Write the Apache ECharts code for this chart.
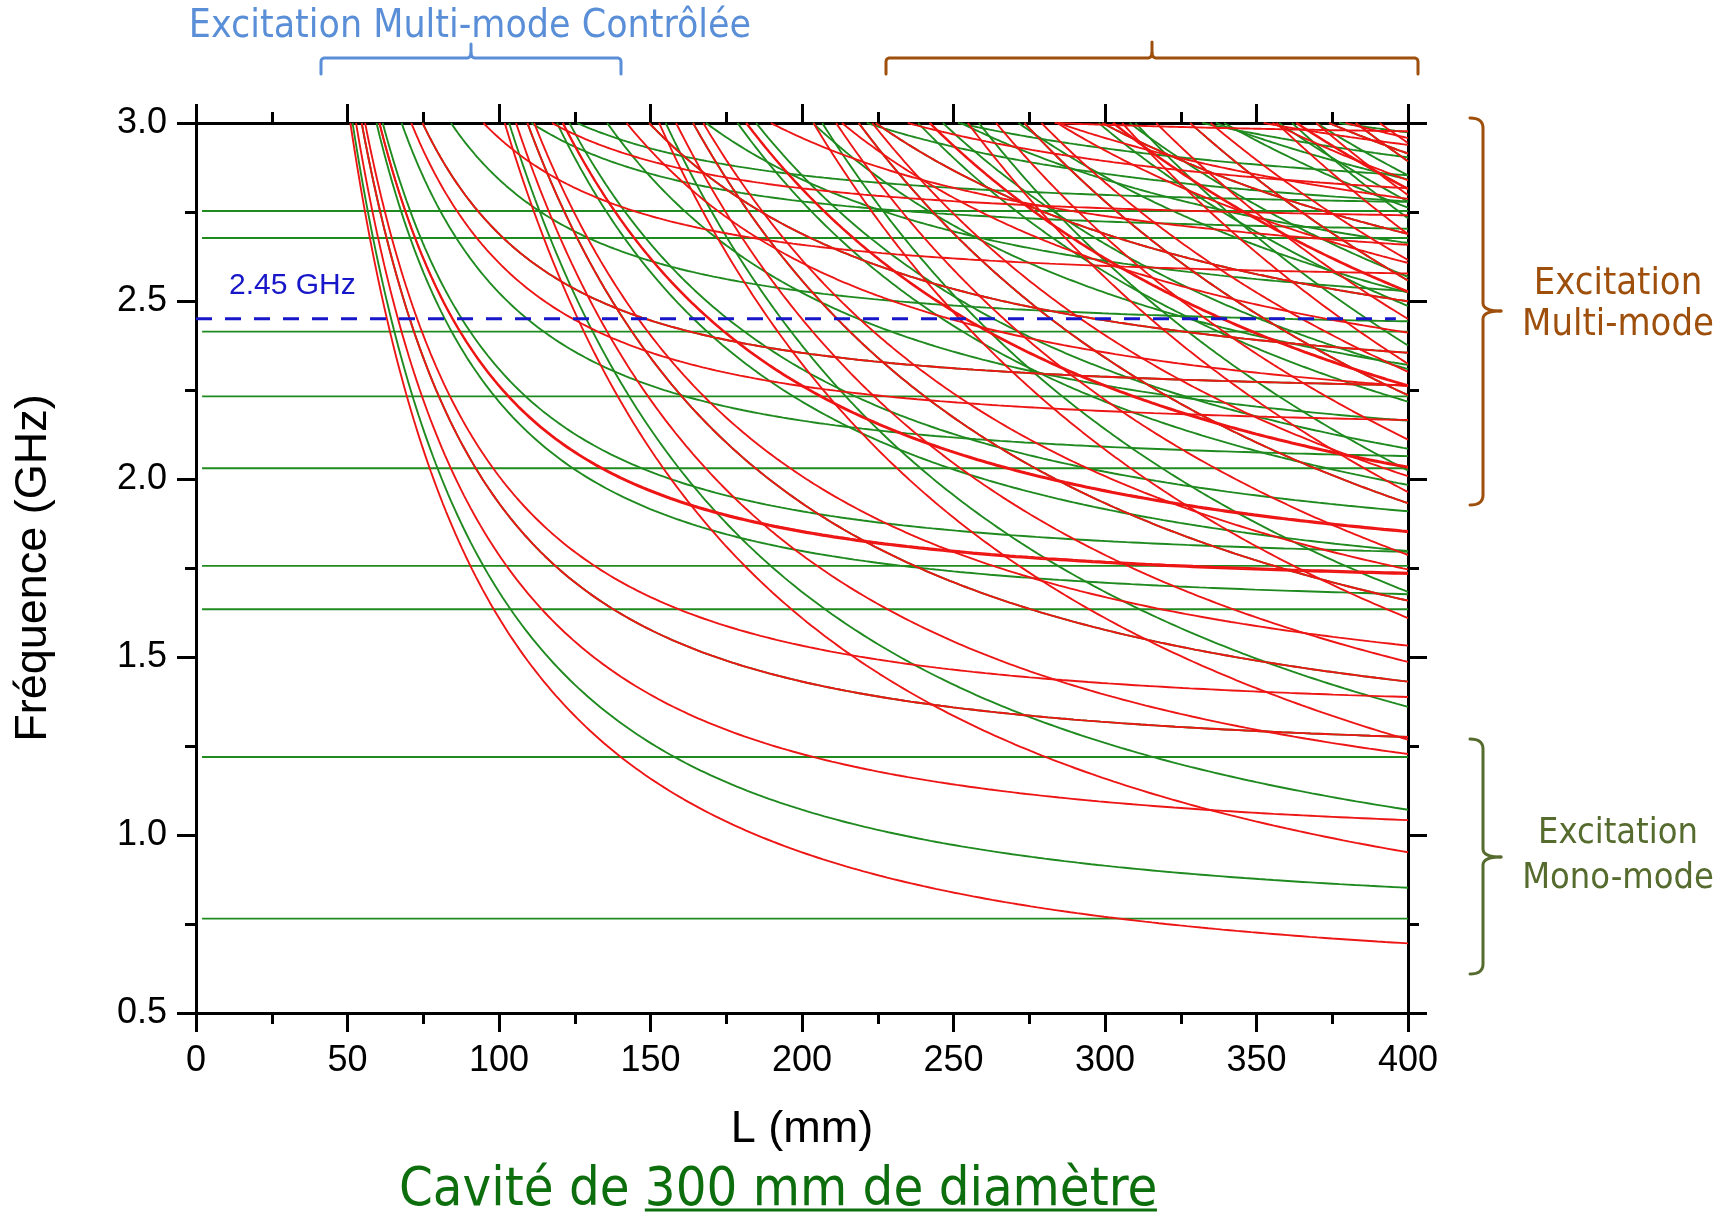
<!DOCTYPE html>
<html>
<head>
<meta charset="utf-8">
<script src="https://cdn.jsdelivr.net/npm/echarts@6/dist/echarts.min.js"></script>
<style>
html,body{margin:0;padding:0;background:#fff;}
#chart{width:1724px;height:1216px;}
</style>
</head>
<body>
<div id="chart"></div>
<script>
// ---------------- DATA ----------------
// TM_mn cut-off frequencies (GHz) – horizontal green lines (p = 0)
const tmModes = ['TM01','TM11','TM21','TM02','TM31','TM12','TM41','TM22','TM03'];
const tmCutoffGHz = [0.765, 1.219, 1.634, 1.756, 2.030, 2.232, 2.414, 2.677, 2.753];
// TE_mn cut-off frequencies (GHz) – red curves (p >= 1)
const teModes = ['TE11','TE21','TE01','TE31','TE41','TE12','TE22','TE02','TE32','TE13','TE42'];
const teCutoffGHz = [0.586, 0.972, 1.219, 1.336, 1.692, 1.696, 2.133, 2.232, 2.550, 2.715, 2.953];
// axial orders p drawn
const tmOrders = [0,1,2,3,4,5,6,7,8];
const teOrders = [1,2,3,4,5,6,7,8];
// half wavelength constant c/2 in GHz*mm (cavity diameter 300 mm)
const halfWaveGHzmm = 149.896;
// tick labels
const xTickLabels = [0,50,100,150,200,250,300,350,400];
const yTickLabels = ['0.5','1.0','1.5','2.0','2.5','3.0'];
const markerGHz = 2.45;
const markerLabel = '2.45 GHz';

// ---------------- BUILD CURVES ----------------
const xMin = 0, xMax = 400, yMin = 0.5, yMax = 3.0;
function modeCurve(fc, p) {
  if (p === 0) return [[2, fc], [xMax, fc]];
  const fEnd = Math.sqrt(fc*fc + Math.pow(p*halfWaveGHzmm/xMax, 2));
  if (fEnd >= yMax) return null;
  const k = p*halfWaveGHzmm;
  const L0 = k / Math.sqrt(yMax*yMax - fc*fc);
  const pts = [];
  const N = 220;
  for (let i = 0; i <= N; i++) {
    const L = L0 + (xMax - L0) * Math.pow(i/N, 1.6);
    const f = Math.sqrt(fc*fc + Math.pow(k/L, 2));
    pts.push([L, Math.min(f, yMax)]);
  }
  return pts;
}
const GREEN = '#1f8a1f', RED = '#ee1515';
const series = [];
tmCutoffGHz.forEach((fc, i) => {
  tmOrders.forEach(p => {
    const d = modeCurve(fc, p);
    if (d) series.push({type:'line', name: tmModes[i]+p, data:d, showSymbol:false, symbol:'none',
      lineStyle:{color:GREEN, width:1.9}, silent:true, animation:false, z:2});
  });
});
teCutoffGHz.forEach((fc, i) => {
  teOrders.forEach(p => {
    const d = modeCurve(fc, p);
    if (d) series.push({type:'line', name: teModes[i]+p, data:d, showSymbol:false, symbol:'none',
      lineStyle:{color:RED, width:1.9}, silent:true, animation:false, z:3});
  });
});
series.push({type:'line', name:'marker', data:[[xMin, markerGHz],[396, markerGHz]], showSymbol:false, symbol:'none',
  lineStyle:{color:'#1717c9', width:3, type:[16,13]}, silent:true, animation:false, z:5});

// ---------------- TEXT / SHAPE HELPERS ----------------
const cv = document.createElement('canvas').getContext('2d');
function fitSize(text, family, width) {
  cv.font = '100px ' + family;
  return 100 * width / cv.measureText(text).width;
}
function textW(text, size, family) { cv.font = size + 'px ' + family; return cv.measureText(text).width; }
const COMIC = '"DejaVu Sans Condensed", "DejaVu Sans"';
function txt(text, x, y, size, color, align) {
  return {type:'text', x:x, y:y, silent:true, z:10,
    style:{text:text, fill:color, font: size.toFixed(1)+'px '+COMIC, align:align||'center', verticalAlign:'middle',
      textAlign:align||'center', textVerticalAlign:'middle'}};
}
function bracePolylines(cmds, color) {
  const out = []; let cur = null; let px = 0, py = 0;
  cmds.forEach(c => {
    if (c[0] === 'M') { cur = [[c[1], c[2]]]; out.push(cur); px = c[1]; py = c[2]; }
    else if (c[0] === 'L') { cur.push([c[1], c[2]]); px = c[1]; py = c[2]; }
    else if (c[0] === 'Q') {
      for (let t = 1; t <= 8; t++) {
        const s = t/8;
        const x = (1-s)*(1-s)*px + 2*(1-s)*s*c[1] + s*s*c[3];
        const y = (1-s)*(1-s)*py + 2*(1-s)*s*c[2] + s*s*c[4];
        cur.push([x, y]);
      }
      px = c[3]; py = c[4];
    }
  });
  return out.map(pts => ({type:'polyline', silent:true, z:10, shape:{points:pts},
    style:{stroke:color, lineWidth:3, fill:null, lineJoin:'round', lineCap:'round'}}));
}
function hBrace(x1, x2, xm, yBar, yEnd, yTip, color) {
  return bracePolylines([
    ['M', x1, yEnd], ['L', x1, yBar+4], ['Q', x1, yBar, x1+4, yBar], ['L', xm-5, yBar], ['Q', xm, yBar, xm, yBar-5], ['L', xm, yTip],
    ['M', xm, yBar-5], ['Q', xm, yBar, xm+5, yBar], ['L', x2-4, yBar], ['Q', x2, yBar, x2, yBar+4], ['L', x2, yEnd]
  ], color);
}
function vBrace(xEnd, xBar, xTip, y1, y2, ym, color) {
  return bracePolylines([
    ['M', xEnd, y1], ['Q', xBar, y1, xBar, y1+10], ['L', xBar, ym-8], ['Q', xBar, ym, xTip, ym],
    ['M', xTip, ym], ['Q', xBar, ym, xBar, ym+8], ['L', xBar, y2-10], ['Q', xBar, y2, xEnd, y2]
  ], color);
}

const blueTxtSize = fitSize('Excitation Multi-mode Contrôlée', COMIC, 562);
const multiSize = fitSize('Multi-mode', COMIC, 192);
const monoSize = fitSize('Mono-mode', COMIC, 192);
const titlePart1 = 'Cavité de ', titlePart2 = '300 mm de diamètre';
const titleSize = fitSize(titlePart1 + titlePart2, COMIC, 758);
const w1 = textW(titlePart1, titleSize, COMIC), w2 = textW(titlePart2, titleSize, COMIC);
const titleLeft = 399;

const BROWN = '#9e4f0c', OLIVE = '#566b2e', LBLUE = '#5a8fd8', DGREEN = '#0d6e0d';
const graphics = [].concat(
  [txt('Excitation Multi-mode Contrôlée', 470, 27, blueTxtSize, LBLUE)],
  hBrace(321, 621, 471, 58, 74, 44, LBLUE),
  hBrace(886, 1418, 1152, 58, 74, 42, BROWN),
  vBrace(1470, 1483, 1501, 118, 505, 311, BROWN),
  vBrace(1470, 1483, 1501, 739, 974, 857, OLIVE),
  [
    txt('Excitation', 1618, 284, multiSize, BROWN),
    txt('Multi-mode', 1618, 325, multiSize, BROWN),
    txt('Excitation', 1618, 834, monoSize, OLIVE),
    txt('Mono-mode', 1618, 879, monoSize, OLIVE),
    txt(titlePart1, titleLeft, 1191, titleSize, DGREEN, 'left'),
    txt(titlePart2, titleLeft + w1, 1191, titleSize, DGREEN, 'left'),
    {type:'line', silent:true, z:10, shape:{x1:titleLeft + w1, y1:1210, x2:titleLeft + w1 + w2, y2:1210},
      style:{stroke:DGREEN, lineWidth:3}},
    {type:'text', x:229, y:286, silent:true, z:10,
      style:{text:markerLabel, fill:'#1717c9', font:'30px Liberation Sans', align:'left', verticalAlign:'middle',
        textAlign:'left', textVerticalAlign:'middle'}}
  ]
);

// ---------------- AXES ----------------
const AX = {color:'#000', width:3};
const labelFont = {color:'#000', fontSize:36, fontFamily:'Liberation Sans'};
function xAx(pos, showLabel) {
  return {type:'value', position:pos, min:xMin, max:xMax, interval:50,
    axisLine:{show:true, onZero:false, lineStyle:AX},
    axisTick:{show:true, inside:false, length:19, lineStyle:AX},
    minorTick:{show:true, splitNumber:2, length:11, lineStyle:AX},
    splitLine:{show:false}, minorSplitLine:{show:false},
    axisLabel:{show:showLabel, margin:30, ...labelFont, showMinLabel:true, showMaxLabel:true,
      formatter:(v)=> xTickLabels.indexOf(v) >= 0 ? String(v) : ''},
    name: showLabel ? 'L (mm)' : '', nameLocation:'middle', nameGap:94,
    nameTextStyle:{color:'#000', fontSize:45, fontFamily:'Liberation Sans'}};
}
function yAx(pos, showLabel) {
  return {type:'value', position:pos, min:yMin, max:yMax, interval:0.5,
    axisLine:{show:true, onZero:false, lineStyle:AX},
    axisTick:{show:true, inside:false, length:19, lineStyle:AX},
    minorTick:{show:true, splitNumber:2, length:11, lineStyle:AX},
    splitLine:{show:false}, minorSplitLine:{show:false},
    axisLabel:{show:showLabel, margin:29, ...labelFont, showMinLabel:true, showMaxLabel:true,
      formatter:(v)=> yTickLabels[Math.round((v - yMin)/0.5)] || ''},
    name: showLabel ? 'Fréquence (GHz)' : '', nameLocation:'middle', nameGap:140,
    nameTextStyle:{color:'#000', fontSize:45, fontFamily:'Liberation Sans'}};
}

const chart = echarts.init(document.getElementById('chart'), null, {renderer:'canvas'});
chart.setOption({
  backgroundColor:'#fff',
  animation:false,
  grid:{left:196, top:123, width:1212, height:890, containLabel:false},
  xAxis:[xAx('bottom', true), xAx('top', false)],
  yAxis:[yAx('left', true), yAx('right', false)],
  series: series,
  graphic: graphics
});
</script>
</body>
</html>
